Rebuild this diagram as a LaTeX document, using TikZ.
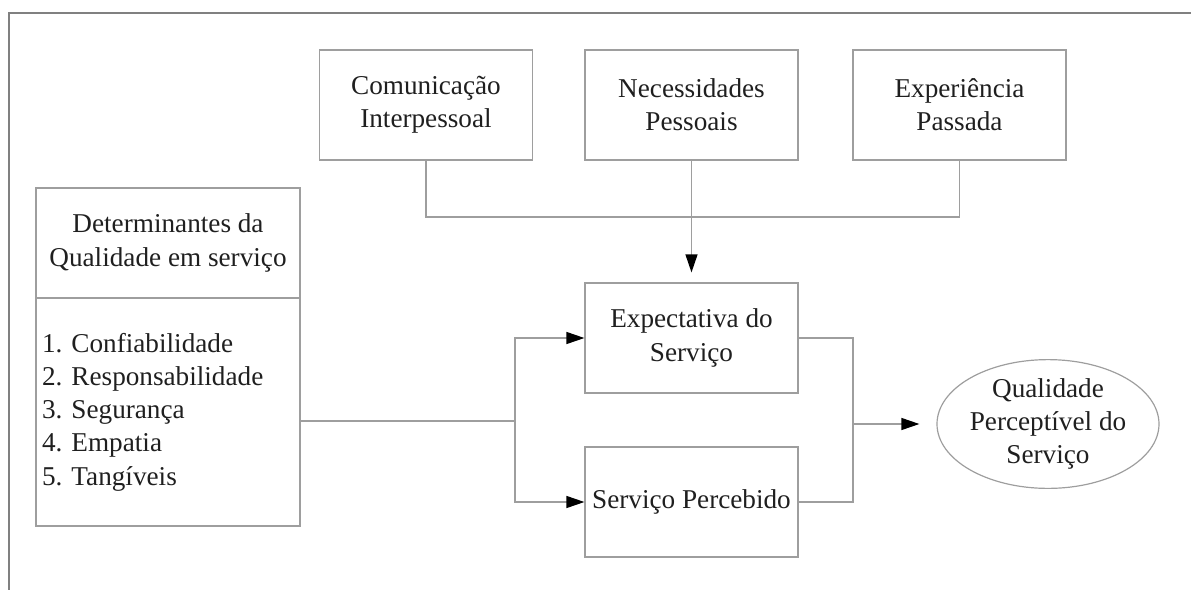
\documentclass[tikz,border=0pt]{standalone}
\usepackage{fontspec}
\setmainfont{Liberation Serif}
\usetikzlibrary{arrows.meta,shapes.geometric,positioning}
\definecolor{linegray}{gray}{0.62}
\definecolor{framegray}{gray}{0.5}
\tikzset{
  box/.style={draw=linegray, line width=0.6pt, minimum width=106.5pt, minimum height=55pt,
    inner sep=0pt, align=center, text=black!88, font=\fontsize{13.6}{16.6}\selectfont\frenchspacing},
  flow/.style={draw=linegray, line width=0.6pt},
  tip/.style={flow, -{Triangle[length=9pt,width=6pt,black]}},
}
\begin{document}
\begin{tikzpicture}[x=0.5pt,y=-0.5pt]
    \useasboundingbox (0,0) rectangle (1191,590);
    \draw[framegray, line width=0.7pt] (1191,13) -- (9,13) -- (9,590);
    \node[box] (com) at (426,105) {Comunicação\\Interpessoal};
    \node[box] (nec) at (691.5,105) {Necessidades\\Pessoais};
    \node[box] (exp) at (959.5,105) {Experiência\\Passada};
    \node[box, minimum width=132pt] (dettop) at (168,243) {Determinantes da\\Qualidade em serviço};
    \node[box, minimum width=132pt, minimum height=114pt, text width=126pt, align=left,
      inner xsep=3pt] (detlist) at (168,412)
      {1. Confiabilidade\\2. Responsabilidade\\3. Segurança\\4. Empatia\\5. Tangíveis};
    \node[box] (esp) at (691.5,338) {Expectativa do\\Serviço};
    \node[box] (perc) at (691.5,502) {Serviço Percebido};
    \node[box, ellipse, minimum width=111pt, minimum height=59pt] (qual) at (1048,424)
      {Qualidade\\Perceptível do\\Serviço};
    \coordinate (join) at (691.5,217);
    \coordinate (split) at (515,421);
    \coordinate (merge) at (853,424);
    \draw[flow] (com.south) |- (join) -| (exp.south);
    \draw[tip, shorten >=5pt] (nec.south) -- (esp.north);
    \draw[flow] (detlist.east |- split) -- (split);
    \draw[tip] (split) |- (esp.west);
    \draw[tip] (split) |- (perc.west);
    \draw[flow] (esp.east) -| (merge) |- (perc.east);
    \draw[tip, shorten >=8.5pt] (merge) -- (qual.west);
  \end{tikzpicture}
\end{document}
